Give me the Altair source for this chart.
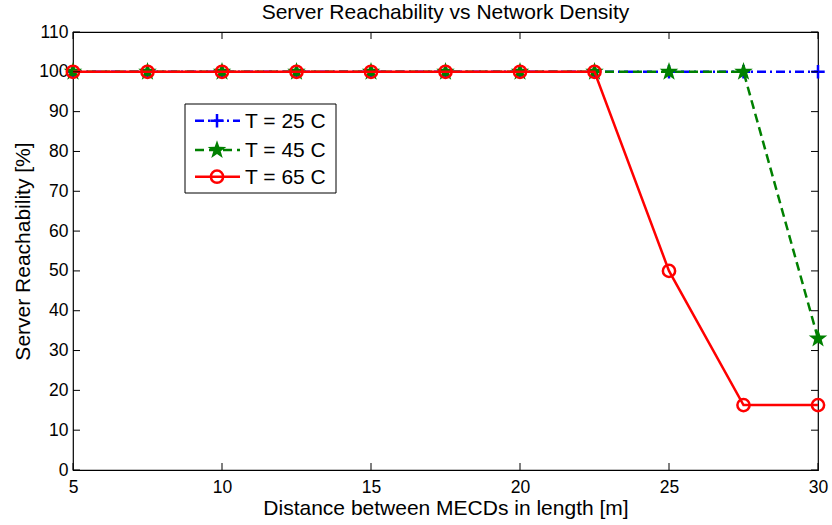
import altair as alt
import pandas as pd

x_vals = [5, 7.5, 10, 12.5, 15, 17.5, 20, 22.5, 25, 27.5, 30]
t25 = [100, 100, 100, 100, 100, 100, 100, 100, 100, 100, 100]
t45 = [100, 100, 100, 100, 100, 100, 100, 100, 100, 100, 33]
t65 = [100, 100, 100, 100, 100, 100, 100, 100, 50, 16.3, 16.3]
series_names = ["T = 25 C", "T = 45 C", "T = 65 C"]
x_ticks = [5, 10, 15, 20, 25, 30]
y_ticks = [0, 10, 20, 30, 40, 50, 60, 70, 80, 90, 100, 110]

W, H = 745, 438
FONT = "Liberation Sans"

STAR = ("M0,-1L0.235,-0.324L0.951,-0.309L0.380,0.124L0.588,0.809L0,0.4"
        "L-0.588,0.809L-0.380,0.124L-0.951,-0.309L-0.235,-0.324Z")
PLUS = "M-1,0L1,0M0,-1L0,1"

styles = [
    dict(color="#0000FF", dash=[9, 4, 2, 4], shape=PLUS, filled=False, size=180),
    dict(color="#008000", dash=[9, 5], shape=STAR, filled=True, size=380),
    dict(color="#FF0000", dash=None, shape="circle", filled=False, size=150),
]
values = [t25, t45, t65]

xs = alt.Scale(domain=[5, 30], nice=False, zero=False)
ys = alt.Scale(domain=[0, 110], nice=False, zero=False)

x_axis = alt.Axis(values=x_ticks, title="Distance between MECDs in length [m]",
                  grid=False, ticks=False, domain=False, labelFont=FONT,
                  labelFontSize=17.5, labelColor="black", labelPadding=8,
                  titleFont=FONT, titleFontSize=21, titleFontWeight="normal",
                  titleColor="black", titlePadding=2, labelFlush=False, orient="bottom")
y_axis = alt.Axis(values=y_ticks, title="Server Reachability [%]",
                  grid=False, ticks=False, domain=False, labelFont=FONT,
                  labelFontSize=17.5, labelColor="black", labelPadding=5,
                  titleFont=FONT, titleFontSize=21, titleFontWeight="normal",
                  titleColor="black", titlePadding=5, orient="left")

layers = []
for i, (name, vals, st) in enumerate(zip(series_names, values, styles)):
    df = pd.DataFrame({"x": x_vals, "y": vals, "s": name})
    base = alt.Chart(df)
    line_kw = dict(color=st["color"], strokeWidth=2.5)
    if st["dash"]:
        line_kw["strokeDash"] = st["dash"]
    line = base.mark_line(**line_kw).encode(
        x=alt.X("x:Q", scale=xs, axis=x_axis),
        y=alt.Y("y:Q", scale=ys, axis=y_axis),
    )
    pt_kw = dict(shape=st["shape"], filled=st["filled"], size=st["size"],
                 color=st["color"], strokeWidth=2.5, opacity=1)
    pts = base.mark_point(**pt_kw).encode(
        x=alt.X("x:Q", scale=xs, axis=x_axis), y=alt.Y("y:Q", scale=ys, axis=y_axis))
    layers += [line, pts]

# inside ticks
xt = pd.DataFrame({"x": x_ticks})
yt = pd.DataFrame({"y": y_ticks})
tick_style = dict(color="black", strokeWidth=1)
layers.append(alt.Chart(xt).mark_rule(**tick_style).encode(
    x=alt.X("x:Q", scale=xs, axis=x_axis), y=alt.value(H), y2=alt.value(H - 7)))
layers.append(alt.Chart(xt).mark_rule(**tick_style).encode(
    x=alt.X("x:Q", scale=xs, axis=x_axis), y=alt.value(0), y2=alt.value(7)))
layers.append(alt.Chart(yt).mark_rule(**tick_style).encode(
    y=alt.Y("y:Q", scale=ys, axis=y_axis), x=alt.value(0), x2=alt.value(7)))
layers.append(alt.Chart(yt).mark_rule(**tick_style).encode(
    y=alt.Y("y:Q", scale=ys, axis=y_axis), x=alt.value(W), x2=alt.value(W - 7)))

# legend
lg = pd.DataFrame({"s": series_names})
bx0, bx1, by0, by1 = 112, 263, 72, 161
row_y = [88.7, 118, 144.7]
layers.append(alt.Chart(lg.head(1)).mark_rect(fill="white", stroke="black", strokeWidth=1).encode(
    x=alt.value(bx0), x2=alt.value(bx1), y=alt.value(by0), y2=alt.value(by1)))
for i, (name, st) in enumerate(zip(series_names, styles)):
    d = lg.iloc[[i]]
    rule_kw = dict(color=st["color"], strokeWidth=2.5)
    if st["dash"]:
        rule_kw["strokeDash"] = st["dash"]
    layers.append(alt.Chart(d).mark_rule(**rule_kw).encode(
        x=alt.value(122), x2=alt.value(167), y=alt.value(row_y[i])))
    layers.append(alt.Chart(d).mark_point(shape=st["shape"], filled=st["filled"], size=st["size"],
                                          color=st["color"], strokeWidth=2.5, opacity=1).encode(
        x=alt.value(144), y=alt.value(row_y[i])))
    layers.append(alt.Chart(d).mark_text(align="left", baseline="middle", font=FONT, fontSize=21,
                                         color="black").encode(
        x=alt.value(172), y=alt.value(row_y[i] + 1), text="s:N"))

chart = alt.layer(*layers).properties(
    width=W, height=H,
    title=alt.Title("Server Reachability vs Network Density", font=FONT, fontSize=21,
                    fontWeight="normal", color="black", offset=0, anchor="middle"),
    autosize=alt.AutoSizeParams(type="none"),
    padding={"left": 73, "top": 32, "right": 14, "bottom": 55},
    background="white",
).configure_view(stroke="black", strokeWidth=1.2)

chart.save("out.html", embed_options={"renderer": "svg", "actions": False})
